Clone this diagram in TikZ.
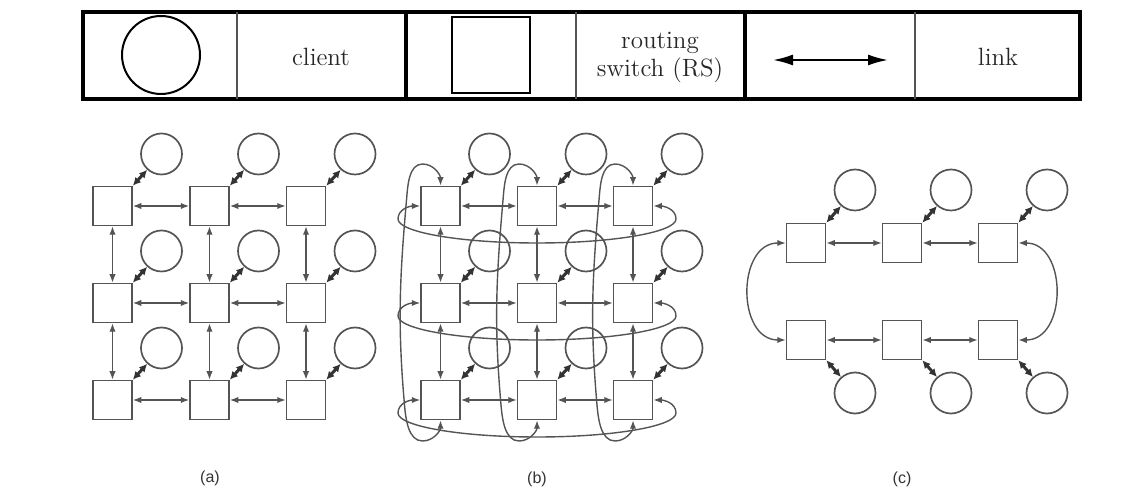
\documentclass[tikz,border=0pt]{standalone}
\usepackage{fontspec}
\newfontfamily\labfont{Liberation Sans}
\usetikzlibrary{arrows.meta,calc}
\definecolor{gcol}{gray}{0.33}
\begin{document}
\begin{tikzpicture}[x=0.5pt,y=0.5pt,
  sw/.style={draw=gcol, line width=0.85pt, minimum size=19.5pt, inner sep=0pt},
  cl/.style={draw=gcol, line width=0.85pt, circle, minimum size=20.5pt, inner sep=0pt},
  lnk/.style={draw=gcol, line width=0.7pt, {Latex[length=4.2pt,width=3.2pt]}-{Latex[length=4.2pt,width=3.2pt]}},
  cln/.style={draw=black!80, line width=1.5pt, {Latex[length=4pt,width=4pt]}-{Latex[length=4pt,width=4pt]}},
  lbl/.style={font=\labfont\fontsize{8}{9}\selectfont, text=black!80},
  legtxt/.style={font=\fontsize{12.5}{14}\selectfont, align=center, text=black!85},
]
\useasboundingbox (0,0) rectangle (1138,-490);

% ---------------- legend ----------------
\draw[line width=1.8pt] (83,-12) rectangle (1080,-99);
\draw[line width=0.8pt, gcol] (237,-12) -- (237,-99);
\draw[line width=0.8pt, gcol] (576,-12) -- (576,-99);
\draw[line width=0.8pt, gcol] (915,-12) -- (915,-99);
\draw[line width=1.6pt] (406,-12) -- (406,-99);
\draw[line width=1.6pt] (745,-12) -- (745,-99);
\node[draw, line width=1pt, circle, minimum size=39pt, inner sep=0pt] (legc) at (161,-55) {};
\node[legtxt] (legct) at (321,-57) {client};
\node[draw, line width=0.9pt, minimum width=39pt, minimum height=38pt, inner sep=0pt] (legs) at (491,-55) {};
\node[legtxt] (legst) at (660,-57) {routing\\switch (RS)};
\coordinate (lega1) at (773,-60);
\coordinate (lega2) at (888,-60);
\draw[line width=1pt, {Latex[length=10pt,width=5.5pt]}-{Latex[length=10pt,width=5.5pt]}] (lega1) -- (lega2);
\node[legtxt] (leglt) at (998,-57) {link};

% ---------------- (a) mesh ----------------
\foreach \i/\y in {1/206,2/303,3/400}{
  \foreach \j/\x in {1/112.5,2/209.5,3/306}{
    \node[sw] (a\i\j) at (\x,-\y) {};
    \node[cl] (ac\i\j) at (\x+49,-\y+52) {};
    \draw[cln] (a\i\j.north east) -- (ac\i\j);
  }
  \draw[lnk] (a\i1) -- (a\i2);
  \draw[lnk] (a\i2) -- (a\i3);
}
\foreach \j in {1,2,3}{
  \draw[lnk] (a1\j) -- (a2\j);
  \draw[lnk] (a2\j) -- (a3\j);
}
\node[lbl] (la) at (210,-478) {(a)};

% ---------------- (b) torus ----------------
\foreach \i/\y in {1/206,2/303,3/400}{
  \foreach \j/\x in {1/440.5,2/537,3/633}{
    \node[sw] (b\i\j) at (\x,-\y) {};
    \node[cl] (bc\i\j) at (\x+49,-\y+52) {};
    \draw[cln] (b\i\j.north east) -- (bc\i\j);
  }
  \draw[lnk] (b\i1) -- (b\i2);
  \draw[lnk] (b\i2) -- (b\i3);
  % horizontal wrap-around
  \draw[lnk] (b\i1.west) to[out=180,in=90] (398,-\y-13)
     to[out=-90,in=180,out looseness=0.24,in looseness=1.39] (537,-\y-37)
     to[out=0,in=-90,out looseness=1.39,in looseness=0.24] (676,-\y-13)
     to[out=90,in=0] (b\i3.east);
}
\foreach \j/\x in {1/440.5,2/537,3/633}{
  \draw[lnk] (b1\j) -- (b2\j);
  \draw[lnk] (b2\j) -- (b3\j);
  % vertical wrap-around
  \draw[lnk] (b1\j.north) to[out=90,in=0] (\x-18,-164)
     to[out=180,in=85,looseness=0.9] (\x-34,-200)
     to[out=-95,in=95] (\x-36,-405)
     to[out=-85,in=180,looseness=0.9] (\x-18,-441)
     to[out=0,in=-90] (b3\j.south);
}
\node[lbl] (lb) at (537,-479) {(b)};

% ---------------- (c) ring ----------------
\foreach \k/\x in {1/806,2/902,3/998}{
  \node[sw] (c\k) at (\x,-243) {};
  \node[cl] (cc\k) at (\x+49,-190) {};
  \draw[cln] (c\k.north east) -- (cc\k);
}
\foreach \k/\x in {4/806,5/902,6/998}{
  \node[sw] (c\k) at (\x,-340) {};
  \node[cl] (cc\k) at (\x+49,-393) {};
  \draw[cln] (c\k.south east) -- (cc\k);
}
\draw[lnk] (c1) -- (c2);
\draw[lnk] (c2) -- (c3);
\draw[lnk] (c4) -- (c5);
\draw[lnk] (c5) -- (c6);
\draw[lnk] (c1.west) to[out=180,in=180,looseness=1.3] (c4.west);
\draw[lnk] (c3.east) to[out=0,in=0,looseness=1.3] (c6.east);
\node[lbl] (lc) at (902,-479) {(c)};
\end{tikzpicture}
\end{document}
